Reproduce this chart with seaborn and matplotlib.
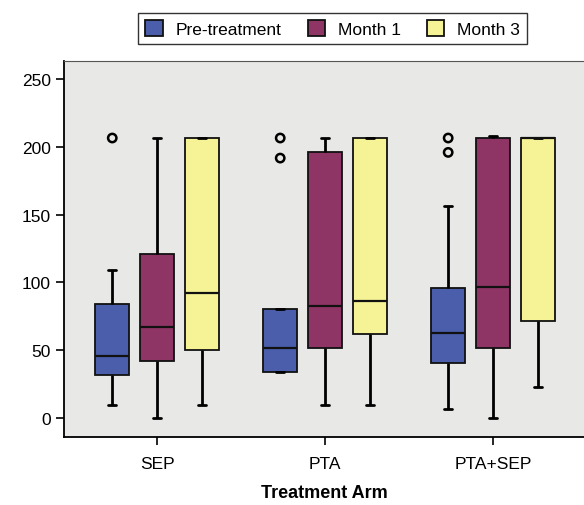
import numpy as np
import pandas as pd
import matplotlib
matplotlib.use("Agg")
import matplotlib.pyplot as plt
import seaborn as sns

arms = ["SEP", "PTA", "PTA+SEP"]
times = ["Pre-treatment", "Month 1", "Month 3"]

# five-number summaries (whisker low, Q1, median, Q3, whisker high)
pre_sep = [9.8, 31.7, 45.7, 84.0, 109.0]
m1_sep = [0.0, 42.3, 67.0, 121.0, 206.5]
m3_sep = [9.8, 50.0, 92.4, 206.5, 206.5]
pre_pta = [34.2, 34.2, 51.4, 80.4, 80.4]
m1_pta = [9.8, 51.9, 82.4, 196.0, 206.5]
m3_pta = [9.8, 61.7, 86.5, 206.5, 206.5]
pre_ps = [6.9, 40.6, 62.7, 95.6, 156.3]
m1_ps = [0.0, 51.4, 96.4, 206.5, 208.2]
m3_ps = [23.0, 71.3, 206.5, 206.5, 206.5]

# outliers
out_pre_sep = [206.5]
out_pre_pta = [206.5, 191.7]
out_pre_ps = [206.5, 195.9]

colors = ["#4A5EAB", "#8F3566", "#F6F296"]

box_sets = {
    ("SEP", "Pre-treatment"): pre_sep, ("SEP", "Month 1"): m1_sep, ("SEP", "Month 3"): m3_sep,
    ("PTA", "Pre-treatment"): pre_pta, ("PTA", "Month 1"): m1_pta, ("PTA", "Month 3"): m3_pta,
    ("PTA+SEP", "Pre-treatment"): pre_ps, ("PTA+SEP", "Month 1"): m1_ps, ("PTA+SEP", "Month 3"): m3_ps,
}
rows = []
for (a, t), vals in box_sets.items():
    for v in vals:
        rows.append({"arm": a, "time": t, "value": v})
df = pd.DataFrame(rows)

out_sets = {("SEP", "Pre-treatment"): out_pre_sep, ("PTA", "Pre-treatment"): out_pre_pta,
            ("PTA+SEP", "Pre-treatment"): out_pre_ps}
orows = []
for (a, t), vals in out_sets.items():
    for v in vals:
        orows.append({"arm": a, "time": t, "value": v})
odf = pd.DataFrame(orows)

sns.set_theme(style="ticks")
plt.rcParams["font.family"] = ["Liberation Sans", "DejaVu Sans"]
plt.rcParams["text.color"] = "black"
plt.rcParams["xtick.color"] = "black"
plt.rcParams["ytick.color"] = "black"
plt.rcParams["axes.labelcolor"] = "black"

fig = plt.figure(figsize=(5.84, 5.06), dpi=100)
ax = fig.add_axes([64 / 584, 68 / 506, 1 - 64 / 584, (438 - 62) / 506])
ax.set_facecolor("#E8E8E6")

sns.boxplot(data=df, x="arm", y="value", hue="time", order=arms, hue_order=times,
            palette=colors, saturation=1, whis=(0, 100), width=0.8, gap=0.25,
            linecolor="#111111", linewidth=1.3, ax=ax, capwidths=0.05,
            whiskerprops={"linewidth": 2.0, "color": "black"},
            capprops={"linewidth": 2.0, "color": "black"},
            medianprops={"linewidth": 1.6, "color": "#111111"})

sns.stripplot(data=odf, x="arm", y="value", hue="time", order=arms, hue_order=times,
              dodge=True, jitter=False, size=6, ax=ax, legend=False, palette=colors)
for coll in ax.collections:
    coll.set_facecolor("none")
    coll.set_edgecolor("black")
    coll.set_linewidth(1.8)

ax.set_xlim(-0.554, 2.542)
ax.set_ylim(-14, 263.3)
ax.set_yticks([0, 50, 100, 150, 200, 250])
ax.tick_params(axis="both", labelsize=12.5, length=6, width=1.2, color="black")
ax.tick_params(axis="x", pad=8)
ax.set_ylabel("")
ax.set_xlabel("Treatment Arm", fontsize=13, fontweight="bold", labelpad=9)
for s in ["left", "bottom"]:
    ax.spines[s].set_color("black")
    ax.spines[s].set_linewidth(1.3)
ax.spines["top"].set_color("#555555")
ax.spines["top"].set_linewidth(0.8)
ax.spines["right"].set_visible(False)

handles, labels = ax.get_legend_handles_labels()
if ax.get_legend() is not None:
    ax.get_legend().remove()
leg = fig.legend(handles[:3], labels[:3], loc="center", bbox_to_anchor=(0.570, 0.942),
                 ncol=3, frameon=True, fancybox=False, fontsize=12.5, handlelength=1.0,
                 handleheight=1.0, columnspacing=1.5, handletextpad=0.75,
                 borderpad=0.4, edgecolor="black")
leg.get_frame().set_linewidth(1.0)

fig.savefig("out.png", dpi=100)
